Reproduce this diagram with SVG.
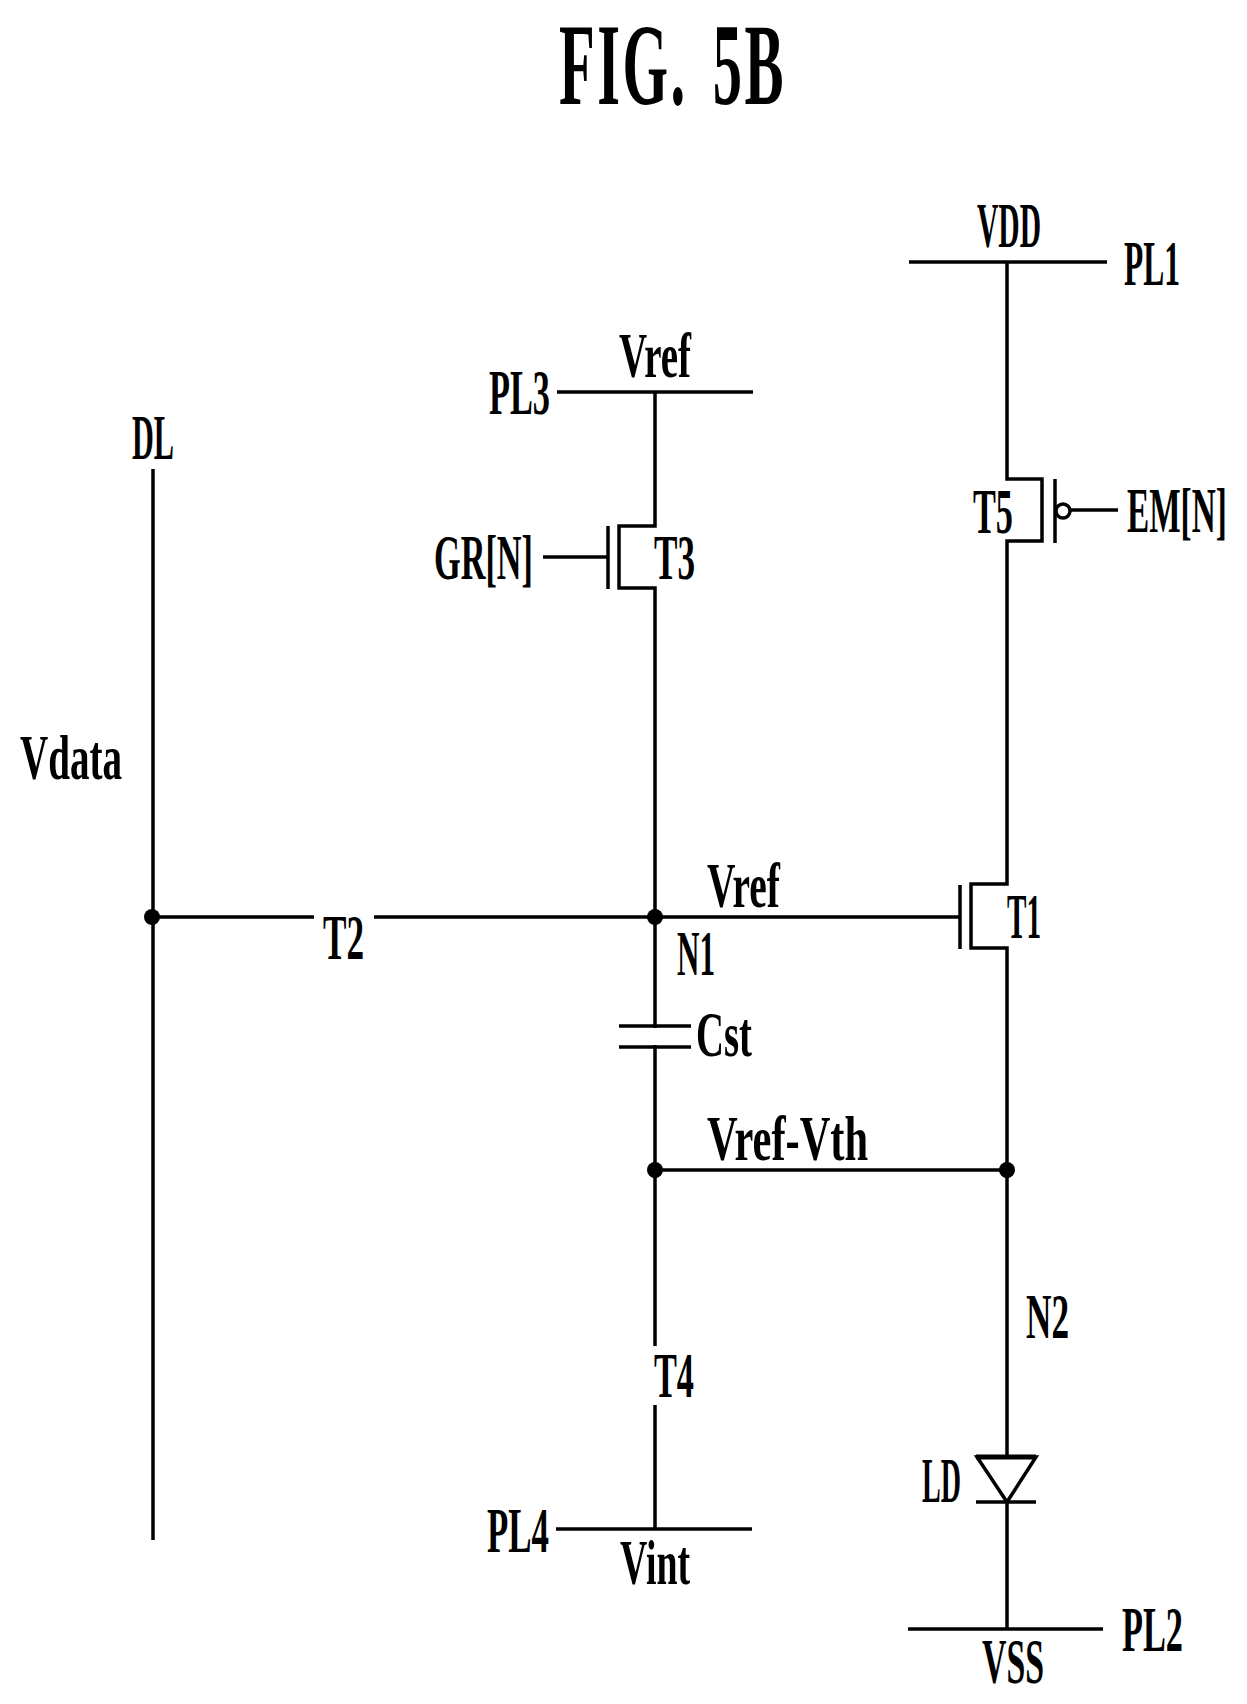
<svg xmlns="http://www.w3.org/2000/svg" width="1247" height="1704" viewBox="0 0 1247 1704">
<style>
text{font-family:"Liberation Serif","DejaVu Serif",serif;font-size:64px;font-weight:bold;fill:#000}
.title{font-size:117px;letter-spacing:5px;word-spacing:16px}
.w{fill:none;stroke:#000;stroke-width:3.5}
.dot{fill:#000}
</style>
<rect width="1247" height="1704" fill="#fff"/>
<text class="title" transform="translate(559,104) scale(.5,1)">FIG. 5B</text>
<g id="connectors">
<path class="w" d="M1007 262V479H1042V541H1007V884H971V948H1007V1629"/>
<path class="w" d="M655 392V526H619V588H655V1346M655 1405V1529"/>
<path class="w" d="M153 469V1540"/>
<path class="w" d="M153 917H314M374 917H960"/>
<path class="w" d="M655 1170H1007"/>
<path class="w" d="M543 557H608"/>
<path class="w" d="M1070 510H1118"/>
</g>
<g id="PL1"><path class="w" d="M909 262H1107"/><text x="1124" y="285" textLength="56" lengthAdjust="spacingAndGlyphs">PL1</text><text x="977" y="247" textLength="64" lengthAdjust="spacingAndGlyphs">VDD</text></g>
<g id="PL2"><path class="w" d="M908 1629H1103"/><text x="1122" y="1651" textLength="61" lengthAdjust="spacingAndGlyphs">PL2</text><text x="982" y="1683" textLength="62" lengthAdjust="spacingAndGlyphs">VSS</text></g>
<g id="PL3"><path class="w" d="M557 392H753"/><text x="489" y="414" textLength="61" lengthAdjust="spacingAndGlyphs">PL3</text><text x="619" y="377" textLength="72" lengthAdjust="spacingAndGlyphs">Vref</text></g>
<g id="PL4"><path class="w" d="M556 1529H752"/><text x="487" y="1552" textLength="62" lengthAdjust="spacingAndGlyphs">PL4</text><text x="620" y="1584" textLength="70" lengthAdjust="spacingAndGlyphs">Vint</text></g>
<g id="DL"><text x="132" y="459" textLength="42" lengthAdjust="spacingAndGlyphs">DL</text><text x="20" y="779" textLength="102" lengthAdjust="spacingAndGlyphs">Vdata</text><circle class="dot" cx="152" cy="917" r="8"/></g>
<g id="T1"><path class="w" d="M960 885V949"/><text x="1007" y="938" textLength="34" lengthAdjust="spacingAndGlyphs">T1</text></g>
<g id="T2"><text x="323" y="959" textLength="41" lengthAdjust="spacingAndGlyphs">T2</text></g>
<g id="T3"><path class="w" d="M608 526V589"/><text x="654" y="579" textLength="41" lengthAdjust="spacingAndGlyphs">T3</text><text x="434" y="579" textLength="99" lengthAdjust="spacingAndGlyphs">GR[N]</text></g>
<g id="T4"><text x="654" y="1397" textLength="40" lengthAdjust="spacingAndGlyphs">T4</text></g>
<g id="T5"><path class="w" d="M1055 479V543"/><circle class="w" cx="1063" cy="511" r="7"/><text x="973" y="533" textLength="40" lengthAdjust="spacingAndGlyphs">T5</text><text transform="translate(1127,532) scale(.52,1)">EM[N]</text></g>
<g id="N1"><circle class="dot" cx="655" cy="917" r="8"/><text x="707" y="907" textLength="73" lengthAdjust="spacingAndGlyphs">Vref</text><text x="677" y="975" textLength="38" lengthAdjust="spacingAndGlyphs">N1</text></g>
<g id="Cst"><path class="w" d="M619 1026H691M619 1047H691"/><rect x="650" y="1028" width="10" height="17" fill="#fff"/><text x="696" y="1056" textLength="56" lengthAdjust="spacingAndGlyphs">Cst</text></g>
<g id="N2"><circle class="dot" cx="655" cy="1170" r="8"/><circle class="dot" cx="1007" cy="1170" r="8"/><text x="707" y="1160" textLength="161" lengthAdjust="spacingAndGlyphs">Vref-Vth</text><text x="1026" y="1338" textLength="43" lengthAdjust="spacingAndGlyphs">N2</text></g>
<g id="LD"><path d="M977 1457H1036L1007 1502Z" fill="#fff" stroke="#000" stroke-width="3.5"/><path d="M976 1457H1036" fill="none" stroke="#000" stroke-width="5"/><path class="w" d="M976 1502H1036"/><text x="922" y="1502" textLength="39" lengthAdjust="spacingAndGlyphs">LD</text></g>
</svg>
